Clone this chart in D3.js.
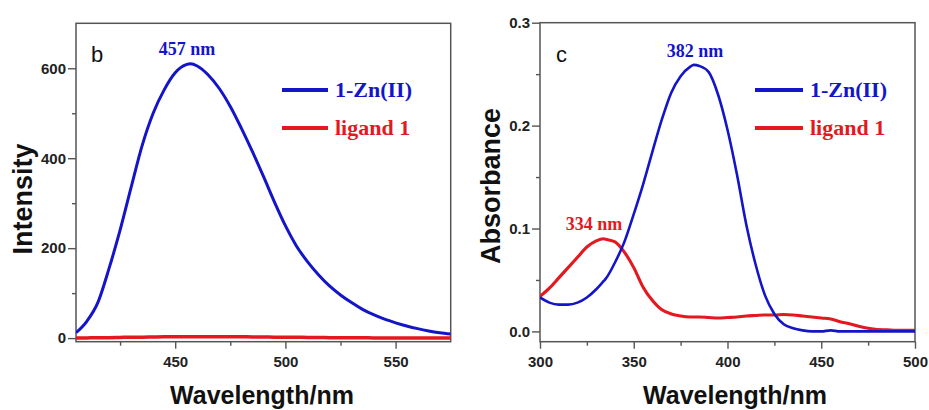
<!DOCTYPE html>
<html>
<head>
<meta charset="utf-8">
<script src="https://cdn.jsdelivr.net/npm/d3@7"></script>
<style>
  body { margin: 0; background: #fff; }
  svg { display: block; }
  .tick text { font-family: "Liberation Sans", Arial, sans-serif; font-weight: bold; font-size: 15px; fill: #222; }
  .axis-title { font-family: "Liberation Sans", Arial, sans-serif; font-weight: bold; fill: #111; }
  .serif { font-family: "Liberation Serif", "Times New Roman", serif; font-weight: bold; }
  .panel-letter { font-family: "Liberation Sans", Arial, sans-serif; font-size: 22px; fill: #111; }
</style>
</head>
<body>
<div id="chart"></div>
<script>
// ---------- data : emission (panel b) ----------
const emWave = [405,410,415,420,425,430,435,440,445,450,455,457,460,465,470,475,480,485,490,495,
  500,505,510,515,520,525,530,535,540,545,550,555,560,565,570,575];
const emZn = [12,38,80,155,240,335,428,500,552,590,608,610,605,585,555,515,467,415,360,303,
  250,205,170,141,116,96,79,64,52,42,34,27,21,16,12,9];
const emLigand = [0,0.5,1,1,1.5,2,2,2.5,3,3,3,3,3,3,3,3,3,2.5,2.5,2,
  2,2,1.5,1.5,1,1,1,1,0.5,0.5,0.5,0.5,0,0,0,0];
const emXTicks = [450, 500, 550];
const emXMinor = [425, 475, 525];
const emYTicks = [0, 200, 400, 600];
const emYMinor = [100, 300, 500];

// ---------- data : absorbance (panel c) ----------
const absWave = [300,305,310,315,320,325,330,334,335,340,345,350,355,360,365,370,375,380,382,
  385,390,395,400,405,410,415,420,425,430,435,440,445,450,455,460,465,470,475,480,485,490,495,500];
const absZn = [0.033,0.028,0.026,0.026,0.028,0.033,0.041,0.049,0.051,0.067,0.087,0.114,0.143,0.175,0.206,0.232,0.248,0.257,0.259,
  0.258,0.252,0.230,0.196,0.153,0.104,0.065,0.035,0.017,0.007,0.003,0.001,0,0,0.001,0,0,0,0,0,0,0,0,0];
const absLigand = [0.034,0.042,0.052,0.062,0.072,0.082,0.088,0.090,0.0895,0.087,0.077,0.062,0.043,0.030,0.021,0.017,0.015,0.014,0.014,
  0.014,0.0135,0.013,0.0135,0.014,0.015,0.0155,0.016,0.016,0.0165,0.016,0.015,0.014,0.013,0.012,0.0095,0.0075,0.005,0.003,0.0018,0.0015,0.001,0.001,0.001];
const absXTicks = [300, 350, 400, 450, 500];
const absXMinor = [325, 375, 425, 475];
const absYTicks = [0, 0.1, 0.2, 0.3];
const absYMinor = [0.05, 0.15, 0.25];

const seriesNames = ["1-Zn(II)", "ligand 1"];

// colors
const blue = "#1414c8";
const red = "#e3191f";
const frameColor = "#555";

const width = 929, height = 410;
const svg = d3.select("#chart").append("svg").attr("width", width).attr("height", height);

function drawPanel(p) {
  const g = svg.append("g");
  const x = d3.scaleLinear().domain(p.xDomain).range([p.left, p.right]);
  const y = d3.scaleLinear().domain(p.yDomain).range([p.bottom, p.top]);

  // minor ticks
  g.append("g")
    .attr("transform", `translate(0,${p.bottom})`)
    .call(d3.axisBottom(x).tickValues(p.xMinor).tickSize(4).tickFormat(""));
  g.append("g")
    .attr("transform", `translate(${p.left},0)`)
    .call(d3.axisLeft(y).tickValues(p.yMinor).tickSize(4).tickFormat(""));

  // major ticks
  const xAxis = g.append("g")
    .attr("transform", `translate(0,${p.bottom})`)
    .call(d3.axisBottom(x).tickValues(p.xTicks).tickSize(7).tickFormat(d3.format("d")));
  xAxis.selectAll("text").attr("y", 25).attr("dy", 0);
  g.append("g")
    .attr("transform", `translate(${p.left},0)`)
    .call(d3.axisLeft(y).tickValues(p.yTicks).tickSize(8).tickPadding(2).tickFormat(p.yFormat));

  g.selectAll(".domain").remove();
  g.selectAll(".tick line").attr("stroke", frameColor).attr("stroke-width", 1.4);

  // frame
  g.append("rect")
    .attr("x", p.left).attr("y", p.top)
    .attr("width", p.right - p.left).attr("height", p.bottom - p.top)
    .attr("fill", "none").attr("stroke", frameColor).attr("stroke-width", 1.5);

  // curves
  const line = (vals) => d3.line()
    .x((d, i) => x(p.wave[i]))
    .y((d) => y(d))
    .curve(d3.curveMonotoneX)(vals);

  const clipId = "clip-" + p.id;
  g.append("clipPath").attr("id", clipId)
    .append("rect").attr("x", p.left).attr("y", p.top)
    .attr("width", p.right - p.left).attr("height", p.bottom - p.top);

  const curves = g.append("g").attr("clip-path", `url(#${clipId})`);
  curves.append("path").attr("d", line(p.ligand))
    .attr("fill", "none").attr("stroke", red).attr("stroke-width", p.lw + 0.5);
  curves.append("path").attr("d", line(p.zn))
    .attr("fill", "none").attr("stroke", blue).attr("stroke-width", p.lw);

  // legend
  const legendColors = [blue, red];
  seriesNames.forEach((name, i) => {
    const ly = p.legendY[i];
    g.append("line")
      .attr("x1", p.legendX[0]).attr("x2", p.legendX[1])
      .attr("y1", ly).attr("y2", ly)
      .attr("stroke", legendColors[i]).attr("stroke-width", 4);
    g.append("text").attr("class", "serif")
      .attr("x", p.legendX[1] + 7).attr("y", ly + 7)
      .attr("font-size", 22).attr("fill", legendColors[i])
      .text(name);
  });

  // panel letter
  g.append("text").attr("class", "panel-letter")
    .attr("x", p.letterPos[0]).attr("y", p.letterPos[1]).text(p.letter);

  // peak labels
  p.peaks.forEach((pk) => {
    g.append("text").attr("class", "serif")
      .attr("x", pk.x).attr("y", pk.y)
      .attr("text-anchor", "middle").attr("font-size", 18)
      .attr("fill", pk.color).text(pk.text);
  });

  // axis titles
  g.append("text").attr("class", "axis-title")
    .attr("x", p.xTitleX).attr("y", 404)
    .attr("text-anchor", "middle").attr("font-size", 25)
    .text("Wavelength/nm");
  g.append("text").attr("class", "axis-title")
    .attr("transform", `translate(${p.yTitlePos[0]},${p.yTitlePos[1]}) rotate(-90)`)
    .attr("text-anchor", "middle").attr("font-size", 27)
    .text(p.yTitle);

  return { x, y };
}

// panel b : emission
const sb = drawPanel({
  id: "b", letter: "b",
  left: 76, right: 450.7, top: 23.3, bottom: 341.7,
  xDomain: [405, 575], yDomain: [-8, 700],
  xTicks: emXTicks, xMinor: emXMinor, yTicks: emYTicks, yMinor: emYMinor,
  yFormat: d3.format("d"),
  wave: emWave, zn: emZn, ligand: emLigand, lw: 3,
  legendX: [282, 328], legendY: [90, 128],
  letterPos: [91, 62],
  peaks: [{ text: "457 nm", x: 187, y: 55, color: blue }],
  xTitleX: 262, yTitlePos: [32, 199], yTitle: "Intensity"
});

// panel c : absorbance
const sc = drawPanel({
  id: "c", letter: "c",
  left: 540, right: 915, top: 22.7, bottom: 341.7,
  xDomain: [300, 500], yDomain: [-0.01, 0.3],
  xTicks: absXTicks, xMinor: absXMinor, yTicks: absYTicks, yMinor: absYMinor,
  yFormat: d3.format(".1f"),
  wave: absWave, zn: absZn, ligand: absLigand, lw: 2.6,
  legendX: [755, 803], legendY: [90, 128],
  letterPos: [556, 62],
  peaks: [
    { text: "382 nm", x: 695, y: 57, color: blue },
    { text: "334 nm", x: 594, y: 230, color: red }
  ],
  xTitleX: 735, yTitlePos: [500, 186], yTitle: "Absorbance"
});
</script>
</body>
</html>
